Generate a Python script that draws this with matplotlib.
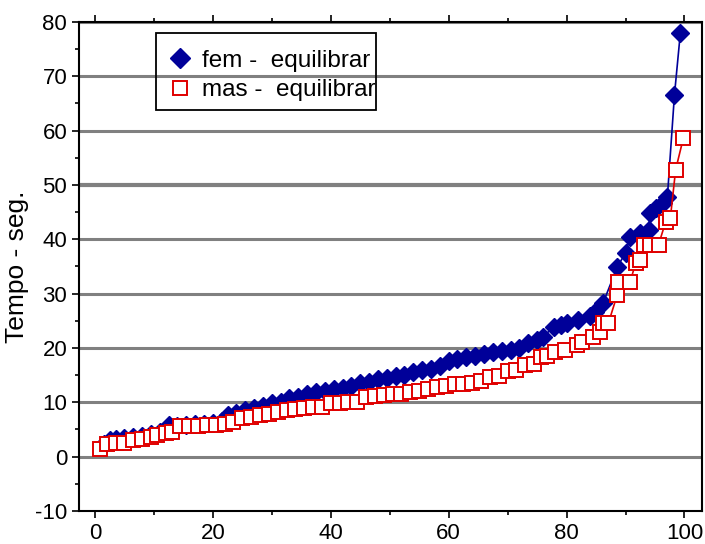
import matplotlib.pyplot as plt
from matplotlib.lines import Line2D
from matplotlib.patches import Rectangle
from matplotlib.ticker import MultipleLocator

plt.rcParams['font.family'] = ['Liberation Sans', 'DejaVu Sans']
plt.rcParams['axes.unicode_minus'] = False

# fem - equilibrar
fem_x = [1.5, 2.5, 3.5, 5, 6.5, 8, 9.5, 11, 12.5, 14, 15.5, 17, 18.5, 20, 21.5,
         22.5, 24, 25.5, 27, 28.5, 30, 31.5, 33, 34.5, 36, 37.5, 39, 40.5, 42,
         43.5, 45, 46.5, 48, 49.5, 51, 52.5, 54, 55.5, 57, 58.5, 60, 61.5, 63,
         64.5, 66, 67.5, 69, 70.5, 72, 73.5, 75, 76, 77.8, 79, 80.1, 82, 84,
         84.9, 86.2, 88.6, 90, 90.8, 92.5, 93.9, 94.2, 95.1, 96.3, 97.1, 98.3, 99.3]
fem_y = [2.3, 3.0, 3.3, 3.4, 3.6, 3.8, 4.2, 4.5, 5.8, 5.6, 5.8, 6.0, 6.0, 6.2, 6.6,
         7.6, 8.0, 8.6, 9.0, 9.3, 9.9, 10.1, 10.8, 11.0, 11.5, 11.9, 12.1, 12.5, 12.7,
         13.0, 13.5, 13.7, 14.2, 14.5, 14.8, 15.0, 15.6, 16.0, 16.2, 16.6, 17.6, 18.0, 18.3,
         18.5, 18.8, 19.3, 19.5, 19.7, 20.0, 21.0, 21.5, 22.0, 23.9, 24.2, 24.6, 25.2, 25.8,
         26.6, 28.3, 34.9, 37.5, 40.5, 41.2, 41.8, 44.8, 45.8, 46.7, 47.8, 66.6, 78.0]

# mas - equilibrar
mas_x = [0.9, 2, 3.5, 5, 6.5, 8, 9.5, 10.5, 12, 13, 14.5, 16, 17.5, 19, 20.5, 22,
         23.5, 25, 26.5, 28, 29.5, 31, 32.5, 34, 35.5, 37, 38.5, 40, 41.5, 43, 44.5,
         46, 47.5, 49, 50.5, 52, 53.5, 55, 56.5, 58, 59.5, 61, 62.5, 64, 65.5, 67,
         68.5, 70, 71.5, 73, 74.5, 75.7, 76.7, 78.1, 79.8, 81.8, 82.7, 84.4, 85.7,
         86.2, 87.1, 88.6, 88.8, 90.8, 91.7, 92.5, 93.1, 94.2, 95.6, 96.8, 97.6, 98.5, 99.8]
mas_y = [1.4, 2.3, 2.5, 2.6, 3.1, 3.3, 3.6, 4.0, 4.3, 4.5, 5.6, 5.7, 5.7, 5.8, 5.8, 6.0,
         6.3, 7.1, 7.3, 7.6, 7.8, 8.2, 8.6, 8.8, 9.0, 9.1, 9.2, 9.8, 9.9, 10.0, 10.1,
         10.9, 11.2, 11.4, 11.5, 11.6, 11.9, 12.0, 12.4, 12.8, 13.0, 13.3, 13.4, 13.5, 13.9, 14.6,
         14.8, 15.8, 16.0, 16.8, 17.0, 18.4, 18.6, 19.3, 19.6, 20.5, 21.1, 22.0, 23.0,
         24.6, 24.6, 29.8, 32.2, 32.2, 35.6, 36.2, 39.0, 39.0, 39.0, 43.2, 43.9, 52.8, 58.6]

grid_levels = [0, 10, 20, 30, 40, 50, 60, 70, 80]

navy = '#000099'
red = '#e00000'

fig = plt.figure(figsize=(7.05, 5.44), dpi=100)
ax = fig.add_axes([0.112, 0.0607, 0.884, 0.899])

for g in grid_levels:
    ax.axhline(g, color='#808080', lw=3.0 if g == 50 else 2.2, zorder=1)

ax.plot(fem_x, fem_y, color=navy, lw=1.2, marker='D', markersize=9,
        markerfacecolor=navy, markeredgecolor=navy, zorder=3)
ax.plot(mas_x, mas_y, color=red, lw=1.2, marker='s', markersize=10,
        markerfacecolor='white', markeredgecolor=red, markeredgewidth=1.4, zorder=4)

ax.set_xlim(-2.7, 103)
ax.set_ylim(-10, 80)
ax.xaxis.set_major_locator(MultipleLocator(20))
ax.xaxis.set_minor_locator(MultipleLocator(10))
ax.yaxis.set_major_locator(MultipleLocator(10))
ax.yaxis.set_minor_locator(MultipleLocator(5))
ax.tick_params(which='both', direction='out', top=True, right=False, labelsize=16,
               width=1.2, colors='black')
ax.tick_params(which='major', length=5)
ax.tick_params(which='minor', length=3)
for s in ax.spines.values():
    s.set_linewidth(1.5)
ax.set_ylabel('Tempo - seg.', fontsize=19, labelpad=4)

# legend: text runs slightly past the box, as in the original
handles = [
    Line2D([], [], ls='none', marker='D', markersize=10, color=navy),
    Line2D([], [], ls='none', marker='s', markersize=10, markerfacecolor='white',
           markeredgecolor=red, markeredgewidth=1.4),
]
ax.legend(handles, ['fem -  equilibrar', 'mas -  equilibrar'], loc='upper left',
          bbox_to_anchor=(0.116, 0.98), fontsize=17.5, frameon=False,
          handlelength=0.9, handletextpad=0.45, borderpad=0.25, labelspacing=0.3)
ax.add_patch(Rectangle((0.1236, 0.820), 0.353, 0.1575, transform=ax.transAxes,
                       facecolor='none', edgecolor='black', lw=1.3, zorder=6))

fig.savefig('out.png', dpi=100)
